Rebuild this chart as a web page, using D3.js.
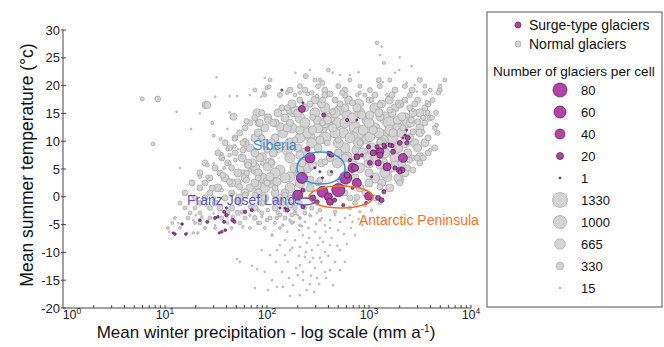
<!DOCTYPE html>
<html><head><meta charset="utf-8">
<script src="https://cdn.jsdelivr.net/npm/d3@7"></script>
<style>body{margin:0;background:#fff}svg{display:block}text{font-family:"Liberation Sans",Arial,sans-serif}</style>
</head><body><svg id="c" width="664" height="347"></svg>
<script>
// [precipitation mm, temperature °C, glaciers per cell]
const normalGlaciers = [
[6,17.6,90],[8.5,17.6,200],[13,15.3,15],[7.6,9.5,80],[18,12.2,20],[32,21.5,15],[25,16.5,300],[22,15,15],[29,13.3,60],[31,18,15],
[43,18.1,15],[51,18.1,15],[68,18.3,20],[95,21.4,15],[100,19.6,90],[105,19.8,90],[93,18.7,60],[88,18,15],[47,14.4,300],[63,13.6,160],
[83,13.3,330],[102,13.8,250],[43,15.2,15],[41,12.2,20],[30,11,60],[35,10.4,60],[48,10.4,120],[58,9.7,200],[61,10.2,90],[89,10.6,200],
[48,9.1,80],[41,8.5,60],[36,7.7,60],[37,6.8,60],[26,5.7,90],[30,6,20],[38,5.2,60],[43,6,60],[65,5.7,250],[90,6,100],[110,6.2,200],
[14,5.2,15],[52,8.6,20],[56,7.5,20],
[190,22.3,20],[240,21.7,150],[264,22.8,15],[330,21,90],[350,20.5,150],[400,22.8,90],[440,22.3,15],[520,21.9,15],[650,21.9,15],[790,22.4,15],
[1250,21,150],[1370,20.6,15],[1980,22.8,15],[1800,22.3,15],[2350,20.5,15],[2800,20.1,15],[2950,18.9,15],[1200,27.7,80],[1330,27,15],[1280,25.5,15],
[1400,24.1,60],[2000,25.1,15],[2620,23.5,15],
[158,18.7,80],[188,18.3,80],[210,18.7,70],[250,18.5,80],[275,18.7,120],[310,18.1,80],[350,17.4,210],[415,18.5,210],[545,18.7,150],[690,16.9,210],
[770,18.3,80],[815,18.7,60],[910,18.3,90],[1060,17.4,120],[1280,16.5,210],[1500,18.3,60],[1900,17,80],[2100,16.5,60],[2350,17,15],[3530,18.7,120],
[4000,19.2,80],[4800,18.7,120],[3700,17,80],[2700,15.6,60],
[168,15.6,380],[180,15.3,590],[280,14.3,210],[350,13.3,210],[440,15.3,210],[520,15.6,590],[850,14.7,380],[1020,14.7,380],[1600,15.6,210],[1900,13.8,380],
[2100,14.4,380],[2600,13.8,210],[3000,13.5,210],[3750,15.1,150],[3400,14.2,150],[4150,14.2,150],[4600,12.9,80],
[80,15.1,380],[158,16,210],[188,15.6,380],[310,13.8,380],[390,13.8,380],[490,13.3,590],[610,14.7,590],[760,16,380],[960,13.8,590],[1280,14.4,380],
[2550,13.3,380],[3150,15.1,380],[85,13.3,290],[115,13.3,290],[134,12.6,380],[168,13.3,290],[26,16.5,290],
[158,12.4,380],[210,12,380],[280,12,380],[350,12.4,590],[440,12.4,380],[560,11.5,590],[700,10.8,590],[880,12,590],[1100,12,380],[1380,11.1,590],
[1720,11.5,380],[2150,12.4,210],[2700,11.7,210],[3400,11.7,80],[188,10.2,210],[390,9.7,210],[500,10.2,210],[815,9.7,210],[1280,9.9,210],
[264,10.8,590],[330,10.2,380],[815,11.5,850],[1020,10.8,590],[1380,10.2,590],[2800,9.7,380],[3150,7.2,380],[1600,12,590],
[89,10.6,200],[112,9.9,210],[100,8.4,210],[134,9.3,210],[158,8.4,590],[115,7.9,380],[90,7.2,380],[72,6.1,380],[63,4.3,210],[54,1.8,210],
[100,5.4,380],[134,4.8,590],[168,3.6,590],[125,2.7,380],[100,2.5,210],[82,3.4,210],[68,4.8,80],[49,6.6,80],[58,8.4,210],[43,7.5,80],
[490,6.1,590],[610,7.2,590],[760,8.4,590],[960,7.2,380],[1500,3.6,590],[2000,3,380],[2700,4.8,210],[1280,5.7,380],[1800,5.7,380],[2500,6.6,210],
[3400,7,210],[2950,7,210],[4000,8.4,80],[210,7.5,380],[280,5.7,380],[370,6.3,210],[330,3,210],[520,3,210],[760,-0.1,210],[1280,1.8,210],
[210,4.8,380],[264,3,380],
[22,3.6,80],[26,3.6,80],[29,1.6,210],[37,3.9,210],[43,2.7,210],[51,2.5,380],[63,3,210],[80,2.1,380],[100,2.7,380],[107,3.6,380],
[120,1.6,210],[58,4.5,80],[73,4.5,80],[46,-3.6,80],[57,-2.7,80],[68,-1.8,80],[85,-1.1,80],[102,-2.4,80],[120,-0.6,210],[23,-3.6,40],
[19,-4.2,20],[13.5,-4.7,20],[11,-6.3,20],[21,-6.5,40],[19,-6.5,40],[16.5,-6.5,20],[58,-5.4,40],[85,-4.7,80],[100,-4.2,80],[125,-3.8,80],
[112,-6.9,40],[51,-1.1,80],[36,-1.5,20],[30,-3,20],[150,0.3,210],[168,-1.5,210],[150,-2.4,80],[134,-3.3,80],[175,-3.3,80],[76,0.3,210],
[61,0.3,210],[45,0.3,80],[36,1.2,80],[30,-0.2,80],[25,-1.5,40],[20,-3.3,20],[31,-5.1,20],[39,-6,20],[68,-3.3,40],[82,-2.4,40],
[89,-3.6,40],[143,-5.1,40],[168,-4.2,40],[210,-5.1,40],[264,-3.3,40],[330,-4.2,40],
[235,-2,80],[330,-2.4,80],[465,-2.7,80],[650,-2,80],[815,-2.7,40],[910,-1.5,80],[1060,-2.4,40],
[210,17.4,212],[295,17.4,377],[464,17.4,212],[630,17.4,377],[1000,17.4,212],[1580,17.4,377],[2250,17.4,212],[3000,17.4,212],[4200,17.4,147],
[140,16,212],[235,16,377],[370,16,590],[580,16,377],[1140,16,590],[1800,16,377],[2510,16,212],[3530,16,212],
[76,14.2,212],[102,14.2,377],[150,14.2,377],[210,14.2,590],[415,14.2,590],[690,14.2,590],[1430,14.2,850],[2250,14.2,590],[3950,14.2,212],
[61,12.4,212],[95,12.4,377],[175,12.4,590],[316,12.4,590],[730,12.4,850],[1140,12.4,590],[1920,12.4,590],[3150,12.4,377],[4420,12.4,147],
[48.6,10.6,212],[76,10.6,377],[120,10.6,377],[210,10.6,590],[370,10.6,850],[650,10.6,590],[910,10.6,850],[1680,10.6,850],[2510,10.6,377],[3800,10.6,212],
[43,8.8,212],[68,8.8,377],[128,8.8,590],[200,8.8,377],[316,8.8,377],[580,8.8,590],[1060,8.8,590],[1920,8.8,590],[3000,8.8,377],[4420,8.8,212],
[36,7,212],[57,7,377],[85,7,377],[168,7,590],[415,7,377],[580,7,377],[1140,7,590],[1800,7,590],[2650,7,212],
[31,5.2,212],[45,5.2,212],[76,5.2,590],[188,5.2,590],[250,5.2,590],[815,5.2,590],[1600,5.2,590],[2400,5.2,212],
[27.6,3.4,212],[38.8,3.4,377],[61,3.4,377],[89,3.4,590],[150,3.4,590],[730,3.4,377],[1140,3.4,590],[1920,3.4,377],
[22,1.6,212],[33,1.6,377],[68,1.6,377],[95,1.6,590],[168,1.6,590],[264,1.6,377],[815,1.6,377],[1600,1.6,377],
[19.7,-0.2,147],[24.7,-0.2,212],[38.8,-0.2,212],[54,-0.2,377],[95,-0.2,377],[134,-0.2,377],[168,-0.2,212],[650,-0.2,212],[1140,-0.2,212],
[15.7,-2,94],[19.7,-2,94],[27.6,-2,147],[34.6,-2,212],[45,-2,212],[76,-2,212],[120,-2,212],[188,-2,147],[275,-2,94],
[12.5,-3.8,50],[16.8,-3.8,94],[27.6,-3.8,94],[36,-3.8,94],[61,-3.8,94],[76,-3.8,147],[107,-3.8,94],[150,-3.8,94],[210,-3.8,50],
[10.7,-5.6,50],[14,-5.6,50],[24.7,-5.6,50],[31,-5.6,50],[45,-5.6,50],[68,-5.6,50],[95,-5.6,50],[134,-5.6,50],
[76,19.2,94],[168,19.2,212],[235,19.2,212],[370,19.2,212],[580,19.2,212],[1020,19.2,147],[1800,19.2,212],[2650,19.2,212],[4950,19.2,147],
[107,21,94],[295,21,94],[650,21,94],[1600,21,94],[3150,21,147],[5540,21,94],
[176,16.7,377],[264,16.7,212],[342,16.7,377],[520,16.7,212],[790,16.7,590],[1330,16.7,377],[2000,16.7,377],[2810,16.7,212],[3800,16.7,212],
[89,15.1,212],[128,15.1,377],[200,15.1,377],[295,15.1,590],[464,15.1,590],[815,15.1,590],[1250,15.1,377],[1680,15.1,377],[2700,15.1,377],[4550,15.1,147],
[68,13.3,212],[120,13.3,377],[235,13.3,590],[370,13.3,590],[580,13.3,590],[1000,13.3,590],[1580,13.3,850],[2400,13.3,590],[3530,13.3,212],
[54,11.5,212],[82,11.5,377],[143,11.5,590],[250,11.5,590],[464,11.5,590],[790,11.5,850],[1250,11.5,590],[2100,11.5,590],[3150,11.5,377],[4700,11.5,147],
[38.8,9.7,212],[61,9.7,377],[95,9.7,377],[168,9.7,590],[275,9.7,590],[500,9.7,590],[790,9.7,590],[1330,9.7,590],[2250,9.7,590],[3530,9.7,377],
[33,7.9,212],[48.6,7.9,212],[76,7.9,377],[115,7.9,377],[235,7.9,590],[500,7.9,377],[870,7.9,590],[1430,7.9,590],[2400,7.9,377],[3800,7.9,212],
[24.7,6.1,212],[41,6.1,212],[65,6.1,377],[107,6.1,590],[220,6.1,377],[342,6.1,377],[690,6.1,377],[1000,6.1,590],[1370,6.1,590],[2100,6.1,377],[3150,6.1,212],
[22,4.3,212],[34.6,4.3,212],[52,4.3,377],[82,4.3,377],[120,4.3,590],[210,4.3,590],[415,4.3,212],[630,4.3,377],[1000,4.3,377],[1430,4.3,590],[2250,4.3,377],
[18.4,2.5,212],[24.7,2.5,212],[45,2.5,377],[76,2.5,377],[112,2.5,590],[210,2.5,590],[316,2.5,212],[580,2.5,212],[1000,2.5,377],[1330,2.5,377],[2000,2.5,212],
[15.7,0.7,212],[27.6,0.7,212],[45,0.7,212],[61,0.7,377],[82,0.7,377],[120,0.7,377],[150,0.7,377],[580,0.7,212],[910,0.7,212],
[14,-1.1,94],[22,-1.1,147],[31,-1.1,212],[54,-1.1,212],[89,-1.1,212],[140,-1.1,212],[210,-1.1,147],[730,-1.1,147],[1280,-1.1,94],
[17.6,-2.9,94],[22,-2.9,94],[41,-2.9,147],[52,-2.9,147],[89,-2.9,94],[128,-2.9,94],[188,-2.9,94],[235,-2.9,94],
[11.8,-4.7,53],[19.7,-4.7,53],[22,-4.7,94],[41,-4.7,53],[54,-4.7,94],[82,-4.7,94],[120,-4.7,53],[176,-4.7,53],
[210,19.9,147],[316,19.9,147],[500,19.9,147],[815,19.9,94],[1280,19.9,147],[2250,19.9,147],[3530,19.9,94],[4950,19.9,94],
[95,18.3,94],[134,18.3,147],[370,18.3,212],[580,18.3,212],[1140,18.3,212],[1680,18.3,212],[2510,18.3,147],
[200,-3.3,15],[210,-3.8,15],[235,-4.5,15],[270,-3.5,15],[310,-2.9,15],[345,-3.8,15],[370,-5.1,15],[415,-4.2,15],[465,-3.3,15],[520,-4.5,15],
[580,-3.8,15],[650,-3.3,15],[690,-4.5,15],[205,-6,15],[225,-6.9,15],[255,-5.6,15],[295,-6.3,15],[330,-7.4,15],[375,-6.3,15],[430,-7.4,15],
[500,-6,15],[188,-7.8,15],[210,-9,15],[245,-8.3,15],[275,-9.6,15],[315,-8.7,15],[370,-9.9,15],[415,-8.7,15],[235,-10.8,15],[264,-11.7,15],
[210,-12.3,15],[295,-12.8,15],[330,-11,15],[200,-14.1,15],[225,-15,15],[264,-15.7,15],[310,-14.6,15],[370,-13.5,15],[180,-15.9,15],[143,-16.2,15],
[160,-11.7,15],[168,-9.6,15],[150,-7.8,15],[520,-9.6,15],[580,-11.7,15],[51,-11.2,20],[54,-11.7,20],[71,-12.4,15],[80,-13,15],[95,-13.5,15],
[125,-9.6,15],[112,-15,15],[125,-16.2,15],[76,-16.4,15],[102,-16.8,15],[415,-13.2,15],
[188,-2.7,15],[220,-5.3,15],[258,-7.4,15],[304,-4.9,15],[355,-8.1,15],[415,-5.6,15],[490,-8.8,15],[568,-6.7,15],[665,-5.6,15],[790,-4,15],
[176,-9.2,15],[206,-10.6,15],[240,-9.9,15],[282,-11,15],[342,-11.7,15],[400,-10.6,15],[464,-11.7,15],[192,-12.8,15],[225,-13.5,15],[270,-14.2,15],
[325,-15.7,15],[380,-14.6,15],[445,-15.9,15],[164,-14.6,15],[140,-13.5,15],[122,-11.7,15],[150,-10.5,15],[134,-8.7,15],[158,-6.3,15],[184,-4.5,15],
[605,-8.5,15],[520,-13.2,15],[860,-5.1,15],[730,-6.9,15],[107,-10.5,15],[89,-9.6,15],[245,-16.8,15],[210,-17.7,15],[290,-17.1,15],[168,-17.8,15]
];
const surgeGlaciers = [
[220,15.8,20],[225,16.9,2],[360,14.7,7],[610,13.8,4],[760,13.8,2],[140,19.2,2],[264,7,41],[250,8.6,10],[415,7.7,10],[760,7.2,15],
[1100,7.9,15],[1280,7.5,15],[990,9,7],[1430,9,7],[1680,9.2,7],[2150,7,33],[2400,10.6,10],[2350,9.7,7],[1500,5.4,26],[730,5.2,20],
[1020,6.1,10],[295,5.2,2],[430,7.5,7],[400,7.9,4],[330,4.5,2],[350,3.4,2],[430,4.5,2],[220,3.4,50],[225,1.2,7],[200,0.3,41],
[225,-1.8,7],[280,-0.2,15],[350,0.9,50],[400,0,26],[460,-0.6,7],[590,3.4,59],[500,1.2,70],[610,3.9,15],[690,5.2,33],[760,2.5,33],
[690,1.6,4],[560,-1.5,4],[940,-1.1,4],[990,0.1,26],[1230,-0.2,10],[1330,-0.6,10],[1400,0.9,7],[1230,6.1,15],[1060,3.6,2],[1280,8.1,26],
[1200,9,7],[1400,9.3,7],[1600,9.3,7],[1720,8.1,10],[2000,9.7,10],[2150,10.6,2],[2100,4.8,15],[1950,4.8,10],[1800,5.2,7],[2250,11.1,2],
[2350,12,2],[158,-2.4,7],[134,-2,2],[310,-0.9,7],[415,-0.9,20],[150,-2,2],[2000,4.5,7],[850,7.5,4],[650,6.6,4],
[12.5,-6.7,3],[14.7,-4.9,3],[16,-6.7,3],[22,-4.2,3],[26,-4.5,4],[31,-3.8,4],[33,-3.6,3],[38,-2.7,4],[40,-3.3,5],[38,-4.5,4],
[46,-4.2,5],[48,-4.5,4],[61,-2.7,5],[71,-2.4,4],[36,-6.3,3],[39,-6,3],[34,-6.5,2],[12,-6.5,2],[40,-2,2]
];
const yTicks = [-20,-15,-10,-5,0,5,10,15,20,25,30];
const xTickExponents = [0,1,2,3,4];
const surgeLegend = [80,60,40,20,1];
const normalLegend = [1330,1000,665,330,15];

const svg = d3.select("#c");
const x = d3.scaleLog().domain([1,10000]).range([63,471]);
const y = d3.scaleLinear().domain([-20,30]).range([308,30]);
const rS = d3.scaleSqrt().domain([0,80]).range([0,7]);
const rN = d3.scaleSqrt().domain([0,1330]).range([0,7.5]);
const surgeFill = "#b244a9", surgeStroke = "#4d1848";
const normFill = "#d4d4d4", normStroke = "#a2a2a2";

svg.append("g").selectAll("circle").data(normalGlaciers.slice().sort((a,b)=>b[2]-a[2])).join("circle")
  .attr("cx",d=>x(d[0])).attr("cy",d=>y(d[1])).attr("r",d=>Math.max(0.9,rN(d[2])))
  .attr("fill",normFill).attr("stroke",normStroke).attr("stroke-width",0.7);
svg.append("g").selectAll("circle").data(surgeGlaciers.slice().sort((a,b)=>b[2]-a[2])).join("circle")
  .attr("cx",d=>x(d[0])).attr("cy",d=>y(d[1])).attr("r",d=>Math.max(1,rS(d[2])))
  .attr("fill",surgeFill).attr("stroke",surgeStroke).attr("stroke-width",0.7);

const ax = svg.append("g").attr("stroke","#444").attr("stroke-width",1);
ax.append("line").attr("x1",x(1)).attr("x2",x(1)).attr("y1",y(30)).attr("y2",y(-20));
ax.append("line").attr("x1",x(1)).attr("x2",x(10000)).attr("y1",y(-20)).attr("y2",y(-20));
ax.selectAll(".yt").data(yTicks).join("line").attr("x1",x(1)-2).attr("x2",x(1)+3).attr("y1",d=>y(d)).attr("y2",d=>y(d));
const minor = [];
xTickExponents.forEach(e=>{ for(let k=1;k<10;k++){ const v=k*Math.pow(10,e); if(v<=10000 && v>1) minor.push(v);} });
ax.selectAll(".xt").data(minor).join("line").attr("x1",d=>x(d)).attr("x2",d=>x(d)).attr("y1",y(-20)).attr("y2",y(-20)-3);

svg.append("g").selectAll("text").data(yTicks).join("text")
  .attr("x",60).attr("y",d=>y(d)+4.5).attr("text-anchor","end").attr("font-size",13).attr("fill","#222").text(d=>d);
const xl = svg.append("g").selectAll("text").data(xTickExponents).join("text")
  .attr("x",d=>d===0 ? x(1)+9 : x(Math.pow(10,d))).attr("y",318.5).attr("text-anchor","middle").attr("font-size",12.5).attr("fill","#222");
xl.append("tspan").text("10");
xl.append("tspan").attr("dy",-5).attr("font-size",8.5).text(d=>d);

svg.append("text").attr("transform","translate(33,165) rotate(-90)").attr("text-anchor","middle")
  .attr("font-size",17.5).attr("fill","#111").text("Mean summer temperature (°c)");
const xt = svg.append("text").attr("x",266).attr("y",338).attr("text-anchor","middle").attr("font-size",17).attr("fill","#111");
xt.append("tspan").text("Mean winter precipitation - log scale (mm a");
xt.append("tspan").attr("dy",-6).attr("font-size",10).text("-1");
xt.append("tspan").attr("dy",6).text(")");

svg.append("ellipse").attr("cx",321).attr("cy",168).attr("rx",24).attr("ry",16).attr("fill","none").attr("stroke","#3a8fd3").attr("stroke-width",1.5);
svg.append("ellipse").attr("cx",341).attr("cy",197).attr("rx",32).attr("ry",11).attr("fill","none").attr("stroke","#f07228").attr("stroke-width",1.6);
svg.append("ellipse").attr("cx",305).attr("cy",201.5).attr("rx",10).attr("ry",3.5).attr("fill","none").attr("stroke","#6355bd").attr("stroke-width",1.3);
svg.append("text").attr("x",253).attr("y",150).attr("font-size",14).attr("fill","#3a8fd3").text("Siberia");
svg.append("text").attr("x",187).attr("y",205).attr("font-size",14).attr("fill","#6355bd").text("Franz Josef Land");
svg.append("text").attr("x",359).attr("y",225).attr("font-size",14).attr("fill","#f07228").text("Antarctic Peninsula");

const lg = svg.append("g");
lg.append("rect").attr("x",487).attr("y",12).attr("width",175).attr("height",295).attr("fill","#fff").attr("stroke","#555").attr("stroke-width",1);
lg.append("circle").attr("cx",518).attr("cy",25).attr("r",3).attr("fill",surgeFill).attr("stroke",surgeStroke).attr("stroke-width",0.7);
lg.append("circle").attr("cx",518).attr("cy",44).attr("r",3).attr("fill",normFill).attr("stroke",normStroke).attr("stroke-width",0.7);
lg.append("text").attr("x",529).attr("y",30).attr("font-size",14).attr("fill","#111").text("Surge-type glaciers");
lg.append("text").attr("x",529).attr("y",49).attr("font-size",14).attr("fill","#111").text("Normal glaciers");
lg.append("text").attr("x",493).attr("y",76).attr("font-size",13.6).attr("fill","#111").text("Number of glaciers per cell");
const sl = lg.selectAll(".sl").data(surgeLegend).join("g").attr("transform",(d,i)=>`translate(560,${90+i*22})`);
sl.append("circle").attr("r",d=>Math.max(1,rS(d))).attr("fill",surgeFill).attr("stroke",surgeStroke).attr("stroke-width",0.7);
sl.append("text").attr("x",21).attr("y",4.5).attr("font-size",13).attr("fill","#111").text(d=>d);
const nl = lg.selectAll(".nl").data(normalLegend).join("g").attr("transform",(d,i)=>`translate(560,${200+i*22})`);
nl.append("circle").attr("r",d=>Math.max(0.9,rN(d))).attr("fill",normFill).attr("stroke",normStroke).attr("stroke-width",0.7);
nl.append("text").attr("x",21).attr("y",4.5).attr("font-size",13).attr("fill","#111").text(d=>d);
</script></body></html>
